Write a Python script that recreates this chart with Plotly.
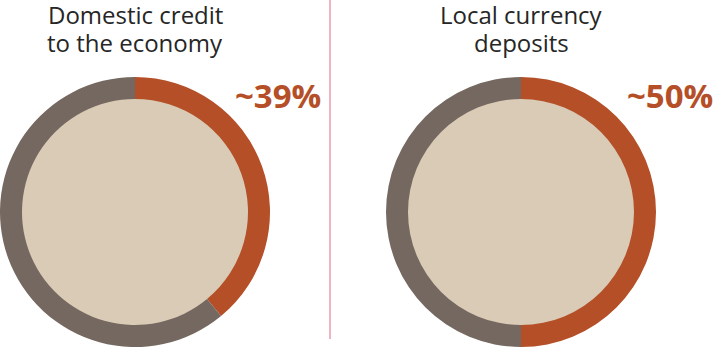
import plotly.graph_objects as go

# Shares shown in each ring
titles = [["Domestic credit", "to the economy"], ["Local currency", "deposits"]]
shares = [39, 50]
labels = ["~39%", "~50%"]

W, H = 713, 347
ORANGE = "#b44f27"
GREY = "#756860"
BEIGE = "#d9cbb5"
TEXT = "#262626"

# pixel geometry of each ring: centre x, centre y (from top), outer radius, inner radius
centres = [135, 521]
label_x = [278, 670]
cy = 212
r_out = 135
r_in = 113

fig = go.Figure()
shapes = []
annotations = []

for i, (cx, share) in enumerate(zip(centres, shares)):
    fig.add_trace(go.Pie(
        values=[share, 100 - share],
        labels=["Share", "Rest"],
        marker=dict(colors=[ORANGE, GREY], line=dict(width=0)),
        hole=r_in / r_out,
        sort=False,
        direction="clockwise",
        rotation=0,
        textinfo="none",
        hoverinfo="skip",
        showlegend=False,
        domain=dict(x=[(cx - r_out) / W, (cx + r_out) / W],
                    y=[(H - cy - r_out) / H, (H - cy + r_out) / H]),
    ))
    # filled centre
    shapes.append(dict(
        type="circle", xref="paper", yref="paper", layer="below",
        x0=(cx - r_in - 1) / W, x1=(cx + r_in + 1) / W,
        y0=(H - cy - r_in - 1) / H, y1=(H - cy + r_in + 1) / H,
        fillcolor=BEIGE, line=dict(width=0),
    ))
    # two-line title
    for j, line in enumerate(titles[i]):
        annotations.append(dict(
            text=line, xref="paper", yref="paper", showarrow=False,
            x=cx / W, y=(H - (14 + 28 * j)) / H, xanchor="center", yanchor="middle",
            borderpad=0,
            font=dict(family="Open Sans", size=24, color=TEXT),
        ))
    # value label
    annotations.append(dict(
        text="<b>" + labels[i] + "</b>", xref="paper", yref="paper", showarrow=False,
        x=label_x[i] / W, y=(H - 95) / H, xanchor="center", yanchor="middle",
        font=dict(family="Open Sans", size=33, color=ORANGE),
    ))

# divider between the two rings
shapes.append(dict(
    type="line", xref="paper", yref="paper",
    x0=330 / W, x1=330 / W, y0=(H - 339) / H, y1=1,
    line=dict(color="#dc6b85", width=1),
))

fig.update_layout(
    width=W, height=H,
    margin=dict(l=0, r=0, t=0, b=0),
    paper_bgcolor="white", plot_bgcolor="white",
    shapes=shapes, annotations=annotations,
)

fig.write_html("out.html", config={"displayModeBar": False})
